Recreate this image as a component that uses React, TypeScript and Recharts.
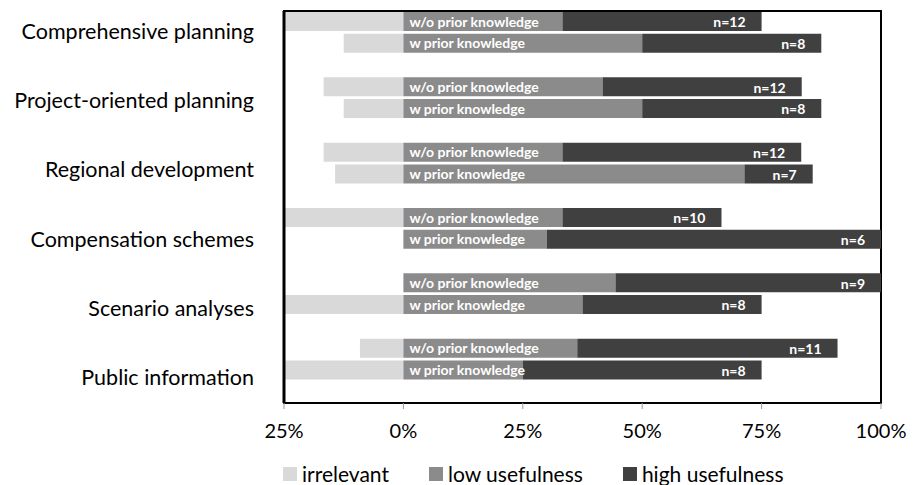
import {
    Bar,
    BarChart,
    LabelList,
    Legend,
    ReferenceArea,
    XAxis,
    YAxis,
} from "recharts";

const FONT = "Lato, 'Liberation Sans', sans-serif";

const groups = [
    "Comprehensive planning",
    "Project-oriented planning",
    "Regional development",
    "Compensation schemes",
    "Scenario analyses",
    "Public information",
];

// two rows per group: without / with prior knowledge
const rowKinds = ["w/o prior knowledge", "w prior knowledge"];

// shares in percent, row order = group by group, w/o first
const irrelevant = [25, 12.5, 16.7, 12.5, 16.7, 14.3, 33.3, 0, 0, 25, 9.1, 25];
const lowUsefulness = [33.3, 50, 41.7, 50, 33.3, 71.4, 33.3, 30, 44.4, 37.5, 36.4, 25];
const highUsefulness = [41.7, 37.5, 41.7, 37.5, 50, 14.3, 33.3, 70, 55.6, 37.5, 54.5, 50];
const sampleSizes = [12, 8, 12, 8, 12, 7, 10, 6, 9, 8, 11, 8];

const xTicks = [-25, 0, 25, 50, 75, 100];
const seriesNames = ["irrelevant", "low usefulness", "high usefulness"];

const COLORS = {
    irrelevant: "#d9d9d9",
    low: "#8b8b8b",
    high: "#404040",
};

// each group gets its two bars plus an empty spacer row
const rows = groups.flatMap((group, gi) => {
    const pair = rowKinds.map((kind, k) => {
        const i = gi * 2 + k;
        return {
            row: `${group}-${k}`,
            group,
            kind,
            irrelevant: -irrelevant[i],
            low: lowUsefulness[i],
            high: highUsefulness[i],
            n: `n=${sampleSizes[i]}`,
        };
    });
    return [...pair, { row: `${group}-gap`, group }];
});

// group names sit on the index axis at the first row of each group
const groupStartRows = groups.map((_, gi) => gi * (rowKinds.length + 1));

const KindLabel = (props: any) => {
    const { x, y, height, value } = props;
    if (!value) return null;
    return (
        <text
            x={x + 6}
            y={y + height / 2}
            dy="0.36em"
            fill="#fff"
            fontFamily={FONT}
            fontWeight={700}
            fontSize={14}
        >
            {value}
        </text>
    );
};

const CountLabel = (props: any) => {
    const { x, y, width, height, value } = props;
    if (!value || !width) return null;
    return (
        <text
            x={x + width - 16}
            y={y + height / 2}
            dy="0.42em"
            textAnchor="end"
            fill="#fff"
            fontFamily={FONT}
            fontWeight={700}
            fontSize={14}
        >
            {value}
        </text>
    );
};

const renderLegend = (props: any) => {
    const items = seriesNames
        .map((name) => props.payload.find((p: any) => p.value === name))
        .filter(Boolean);
    return (
        <div
            style={{
                display: "flex",
                fontFamily: FONT,
                fontSize: 21,
                lineHeight: "21px",
                color: "#000",
                whiteSpace: "nowrap",
            }}
        >
            {items.map((entry: any) => (
                <span
                    key={entry.value}
                    style={{ display: "flex", alignItems: "center", marginRight: 40 }}
                >
                    <span
                        style={{
                            width: 14,
                            height: 14,
                            background: entry.color,
                            marginRight: 5,
                        }}
                    />
                    {entry.value}
                </span>
            ))}
        </div>
    );
};

function App() {
    return (
        <div style={{ width: 901, height: 477 }}>
            <BarChart
                width={901}
                height={477}
                data={rows}
                layout="vertical"
                stackOffset="sign"
                barSize={19}
                barCategoryGap={0}
                margin={{ top: 3, right: 28, left: 0, bottom: 42 }}
            >
                <XAxis
                    type="number"
                    domain={[-25, 100]}
                    ticks={xTicks}
                    allowDataOverflow
                    tickFormatter={(v: number) => `${Math.abs(v)}%`}
                    tick={{ fontSize: 20, fill: "#000", fontFamily: FONT }}
                    axisLine={false}
                    tickLine={{ stroke: "#999" }}
                    tickSize={6}
                    tickMargin={15}
                    height={40}
                />
                <YAxis type="category" dataKey="row" hide width={0} />
                <YAxis
                    yAxisId="names"
                    type="number"
                    ticks={groupStartRows}
                    interval={0}
                    padding={{ top: 20, bottom: -21 }}
                    tickFormatter={(v: number) => rows[v]?.group ?? ""}
                    tick={{ fontSize: 21.5, fill: "#000", fontFamily: FONT }}
                    axisLine={{ stroke: "#000", strokeWidth: 3 }}
                    tickLine={false}
                    tickSize={0}
                    tickMargin={30}
                    width={276}
                />
                <Legend
                    verticalAlign="middle"
                    content={renderLegend}
                    wrapperStyle={{ top: 455, left: 275, width: 620 }}
                />
                <Bar
                    dataKey="irrelevant"
                    name="irrelevant"
                    stackId="a"
                    fill={COLORS.irrelevant}
                    isAnimationActive={false}
                />
                <Bar
                    dataKey="low"
                    name="low usefulness"
                    stackId="a"
                    fill={COLORS.low}
                    isAnimationActive={false}
                >
                    <LabelList dataKey="kind" content={KindLabel} />
                </Bar>
                <Bar
                    dataKey="high"
                    name="high usefulness"
                    stackId="a"
                    fill={COLORS.high}
                    isAnimationActive={false}
                >
                    <LabelList dataKey="n" content={CountLabel} />
                </Bar>
                <ReferenceArea
                    x1={-25}
                    x2={100}
                    fill="none"
                    fillOpacity={0}
                    stroke="#000"
                    strokeWidth={2}
                />
            </BarChart>
        </div>
    );
}

export default App;
